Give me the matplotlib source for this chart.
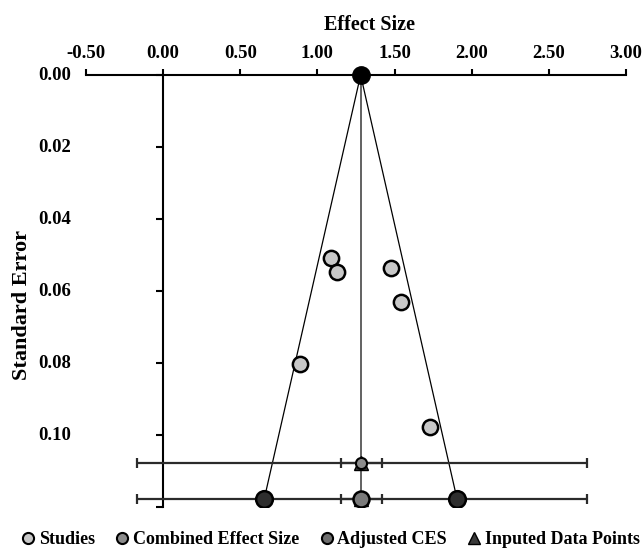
import matplotlib
matplotlib.use("Agg")
from matplotlib import pyplot as plt
from matplotlib.lines import Line2D

# individual studies
study_es = [1.09, 1.13, 1.48, 1.54, 0.89, 1.73]
study_se = [0.0507, 0.0547, 0.0535, 0.0631, 0.0802, 0.0977]

# pooled estimate and its intervals
ces = 1.28
ci = [1.155, 1.42]
pi = [-0.17, 2.75]
row_ces = 0.1078
row_adj = 0.1178
funnel_ends = [0.655, 1.905]

x_ticks = [-0.5, 0.0, 0.5, 1.0, 1.5, 2.0, 2.5, 3.0]
y_ticks = [0.0, 0.02, 0.04, 0.06, 0.08, 0.10, 0.12]
y_labels = ["0.00", "0.02", "0.04", "0.06", "0.08", "0.10", ""]

plt.rcParams["font.family"] = ["Liberation Serif", "DejaVu Serif"]
plt.rcParams["font.weight"] = "bold"

fig = plt.figure(figsize=(6.44, 5.5), dpi=100)
ax = fig.add_axes([86 / 644, 1 - 507 / 550, 540 / 644, 432 / 550])

ax.set_xlim(-0.5, 3.0)
ax.set_ylim(0.12, 0.0)

for s in ["right", "bottom"]:
    ax.spines[s].set_visible(False)
ax.spines["left"].set_position(("data", 0))
ax.spines["left"].set_linewidth(1.5)
ax.spines["top"].set_linewidth(1.5)

ax.xaxis.tick_top()
ax.set_xticks(x_ticks)
ax.set_xticklabels(["%.2f" % v for v in x_ticks], fontsize=13.5, fontweight="bold")
ax.tick_params(axis="x", direction="out", length=4, width=1.5, pad=5)
ax.set_yticks(y_ticks)
ax.set_yticklabels([])
ax.tick_params(axis="y", direction="out", length=5, width=1.5)
for v, lab in zip(y_ticks, y_labels):
    ax.text(-0.028, v, lab, transform=ax.get_yaxis_transform(), ha="right",
            va="center", fontsize=13.5, fontweight="bold", clip_on=False)

# funnel
for xe in funnel_ends:
    ax.plot([ces, xe], [0, row_adj], color="black", lw=0.9, zorder=2)
ax.plot([ces, ces], [0, row_adj], color="#555555", lw=1.3, zorder=2)

# interval bars on both pooled rows
for row in [row_ces, row_adj]:
    for lo, hi in [pi, ci]:
        ax.errorbar(ces, row, xerr=[[ces - lo], [hi - ces]], fmt="none",
                    ecolor="#2b2b2b", elinewidth=1.6, capsize=3.5,
                    capthick=1.6, zorder=3)

ax.plot(study_es, study_se, "o", ms=11, mfc="#c8c8c8", mec="black",
        mew=1.8, ls="none", zorder=5)

ax.plot([ces, ces], [row_ces, row_adj], "^", ms=10, mfc="#3a3a3a",
        mec="black", mew=1, ls="none", zorder=4)
ax.plot(ces, row_ces, "o", ms=8, mfc="#8c8c8c", mec="black", mew=1.5,
        zorder=5)
ax.plot(ces, row_adj, "o", ms=11.5, mfc="#7a7a7a", mec="black", mew=1.8,
        zorder=5)
ax.plot(funnel_ends, [row_adj, row_adj], "o", ms=12, mfc="#2e2e2e",
        mec="black", mew=1.8, ls="none", zorder=5)
ax.plot(ces, 0, "o", ms=12.5, mfc="black", mec="black", zorder=6,
        clip_on=False)

fig.text(370 / 644, 1 - 25 / 550, "Effect Size", ha="center", va="center",
         fontsize=14.5, fontweight="bold")
fig.text(22 / 644, 1 - 305 / 550, "Standard Error", ha="center", va="center",
         rotation=90, fontsize=16, fontweight="bold")

handles = [
    Line2D([], [], marker="o", ls="none", ms=8, mfc="#c8c8c8", mec="black", mew=1.5),
    Line2D([], [], marker="o", ls="none", ms=8, mfc="#8c8c8c", mec="black", mew=1.5),
    Line2D([], [], marker="o", ls="none", ms=8, mfc="#6e6e6e", mec="black", mew=1.5),
    Line2D([], [], marker="^", ls="none", ms=8, mfc="#3a3a3a", mec="black", mew=1),
]
labels = ["Studies", "Combined Effect Size", "Adjusted CES", "Inputed Data Points"]
fig.legend(handles, labels, loc="center", bbox_to_anchor=(0.512, 1 - 540 / 550),
           ncol=4, frameon=False, handletextpad=0.1, columnspacing=1.0,
           handlelength=1.0, prop={"size": 13, "weight": "bold"})

fig.savefig("out.png", dpi=100)
